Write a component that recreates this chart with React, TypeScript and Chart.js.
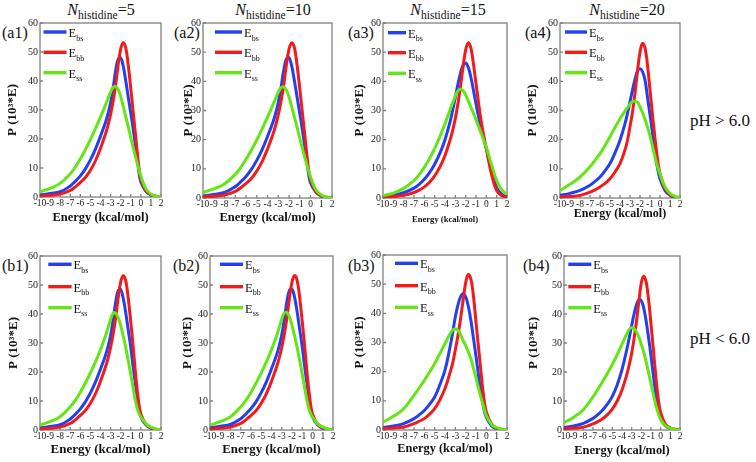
import React, { useEffect, useRef } from "react";
import { Chart, registerables } from "chart.js";

Chart.register(...registerables);

// ---------------- data ----------------
// energy grid (kcal/mol): coarser in the tails, finer around the peaks
const energies = [-10, -9, -8, -7, -6.5, -6, -5.5, -5, -4.5, -4, -3.5, -3.25, -3, -2.75, -2.5, -2.25, -2, -1.75, -1.5, -1.25, -1, -0.75, -0.5, -0.25, 0, 0.5, 1, 1.5, 2];
const xTickValues = [-10, -9, -8, -7, -6, -5, -4, -3, -2, -1, 0, 1, 2];
const yTickValues = [0, 10, 20, 30, 40, 50, 60];
const legendSubs = ["bs", "bb", "ss"];
const histidineCounts = [5, 10, 15, 20];
const panelLabels = ["(a1)", "(a2)", "(a3)", "(a4)", "(b1)", "(b2)", "(b3)", "(b4)"];
const phLabels = ["pH > 6.0", "pH < 6.0"];
const xAxisTitle = "Energy (kcal/mol)";
const yAxisTitle = "P (10³*E)";

const a1Ebs = [0.7, 1.2, 1.8, 3.8, 5.4, 7.3, 9.7, 12.8, 16.5, 21, 25.8, 28.8, 32.5, 37.5, 43.5, 47.5, 48, 45.2, 40.2, 34.5, 29, 23.2, 17, 10.3, 5.2, 2, 0.6, 0.2, 0.05];
const a1Ebb = [0.3, 0.6, 1, 2.3, 3.5, 5, 6.7, 9.2, 12.5, 16.8, 21.8, 24.8, 28.5, 33, 38.5, 45.5, 51, 53.2, 51.5, 45.5, 37.5, 29, 20.5, 12, 6.3, 2.1, 0.8, 0.3, 0.1];
const a1Ess = [1.8, 3, 4.7, 8, 10.3, 13.2, 16.3, 19.8, 23.6, 27.6, 31.8, 34, 36.2, 37.8, 38.1, 37, 34.6, 31.3, 27.8, 24.3, 20.5, 16.9, 13.5, 10.3, 7.2, 2.8, 1, 0.3, 0.1];

const a2Ebs = [0.7, 1.2, 1.9, 3.9, 5.5, 7.4, 9.8, 12.9, 16.6, 21.1, 25.9, 28.9, 32.6, 37.6, 43.6, 47.6, 48.1, 45.3, 40.3, 34.6, 29, 23.2, 17, 10.3, 5.2, 2, 0.6, 0.2, 0.05];
const a2Ebb = [0.3, 0.6, 1, 2.3, 3.5, 5, 6.7, 9.2, 12.5, 16.8, 21.8, 24.8, 28.5, 33, 38.5, 45.5, 51, 53.2, 51.6, 45.6, 37.6, 29, 20.5, 12, 6.3, 2.1, 0.8, 0.3, 0.1];
const a2Ess = [1.9, 3.1, 4.8, 8.1, 10.4, 13.3, 16.4, 19.9, 23.7, 27.7, 31.9, 34.1, 36.2, 37.8, 38.1, 37, 34.6, 31.3, 27.8, 24.3, 20.5, 16.9, 13.5, 10.3, 7.2, 2.8, 1, 0.3, 0.1];

const a3Ebs = [0.4, 0.9, 1.8, 3.4, 4.7, 6.4, 8.7, 11.6, 15.3, 20, 26.3, 30.2, 34.5, 39, 42.8, 45.5, 46.3, 44.8, 41.5, 37, 32.3, 27.8, 23.8, 20.2, 16.8, 9.3, 3.5, 1.2, 0.4];
const a3Ebb = [0.2, 0.45, 0.9, 1.9, 2.7, 3.8, 5.4, 7.6, 10.6, 14.6, 20, 23.3, 27.3, 32.3, 38.3, 45, 50.8, 53.2, 51.5, 46, 39.3, 32.5, 26.3, 21.3, 17, 8.2, 2.5, 0.8, 0.2];
const a3Ess = [0.8, 1.7, 3.3, 6, 8, 10.5, 13.5, 17, 21, 25.5, 30.3, 32.7, 35, 36.7, 37.3, 36.8, 35.3, 33.3, 31.2, 29, 26.8, 24.5, 22.2, 19.8, 17.3, 11.5, 6, 2.8, 1.3];

const a4Ebs = [0.9, 1.6, 2.6, 4.4, 5.7, 7.2, 9.3, 11.8, 15.5, 19.8, 25.5, 29, 33, 37, 40.7, 43.5, 44.3, 43.3, 40.5, 34.5, 28.5, 22.3, 15.8, 10.3, 6.6, 2.6, 0.9, 0.3, 0.05];
const a4Ebb = [0.3, 0.55, 0.9, 2, 2.8, 3.8, 5, 6.6, 8.9, 11.8, 16.5, 19.8, 24.5, 29.5, 36, 43.5, 50, 53, 51.5, 45.5, 37, 28.5, 20.5, 13.3, 8.4, 3.2, 1.2, 0.4, 0.1];
const a4Ess = [2.6, 4.7, 7.2, 10.7, 12.9, 15.2, 18, 21, 24.2, 27.2, 29.8, 31, 32.2, 33, 33.2, 32.8, 31.2, 29.3, 27, 24.3, 21.3, 17.8, 14, 10.8, 8.2, 3.8, 1.6, 0.6, 0.1];

const b1Ebs = [0.7, 1.2, 1.8, 3.8, 5.4, 7.3, 9.7, 12.8, 16.5, 21, 25.8, 28.8, 32.6, 37.8, 44, 48, 48.4, 45.5, 40.5, 34.5, 28.5, 21.5, 15, 8.8, 4.6, 1.8, 0.6, 0.2, 0.05];
const b1Ebb = [0.3, 0.6, 1, 2.3, 3.5, 5, 6.7, 9.2, 12.5, 16.8, 21.8, 24.8, 28.5, 33, 38.5, 45.5, 51, 53.2, 51.5, 45.5, 37.3, 28.3, 18.5, 10.5, 5.5, 2, 0.8, 0.3, 0.1];
const b1Ess = [1.7, 2.9, 4.6, 8, 10.2, 13, 16.2, 19.7, 23.5, 27.7, 32.5, 35.3, 38.2, 40.2, 40.3, 38.8, 36, 32.5, 28.5, 24, 19.2, 14.2, 9.5, 6.3, 4.5, 2.2, 1, 0.4, 0.1];

const b2Ebs = [0.8, 1.3, 1.9, 3.9, 5.5, 7.4, 9.8, 12.9, 16.6, 21.1, 25.9, 29, 32.8, 38, 44.2, 48.2, 48.6, 45.8, 40.8, 34.7, 28.6, 21.5, 15, 8.8, 4.6, 1.8, 0.6, 0.2, 0.05];
const b2Ebb = [0.3, 0.6, 1, 2.3, 3.5, 5, 6.7, 9.2, 12.5, 16.8, 21.8, 24.8, 28.5, 33, 38.5, 45.5, 51, 53.3, 51.6, 45.6, 37.4, 28.3, 18.5, 10.5, 5.5, 2, 0.8, 0.3, 0.1];
const b2Ess = [1.7, 2.9, 4.6, 8, 10.2, 13, 16.2, 19.7, 23.5, 27.7, 32.5, 35.3, 38.2, 40.3, 40.5, 39, 36.1, 32.5, 28.5, 24, 19.2, 14.2, 9.5, 6.3, 4.5, 2.2, 1, 0.4, 0.1];

const b3Ebs = [0.8, 1.4, 2.2, 3.9, 5.2, 6.7, 8.8, 11.3, 15.5, 20.5, 28.7, 33.5, 38.8, 42.8, 45.6, 46.7, 45.7, 42.5, 37.7, 31.6, 25.3, 18.6, 12.3, 7.5, 4.4, 1.5, 0.5, 0.2, 0.05];
const b3Ebb = [0.5, 0.7, 1, 2.2, 3, 3.9, 5.4, 7.3, 10.3, 14.2, 19.8, 23, 27.5, 32.3, 38, 44.5, 50.5, 53.3, 51.8, 46, 37, 28.2, 19.2, 11.2, 6.2, 2.1, 0.6, 0.2, 0.1];
const b3Ess = [2.7, 4.7, 7.3, 11.9, 14.4, 17, 19.8, 22.7, 26.2, 29.6, 33, 34.3, 34.7, 34.2, 32.7, 30.7, 28.9, 26.8, 24.5, 21.2, 17.9, 14.3, 10.9, 7.8, 5, 2, 0.8, 0.3, 0.1];

const b4Ebs = [0.8, 1.4, 2.3, 4, 5.3, 6.9, 9, 11.6, 15.5, 20.8, 27.8, 31.8, 36, 40, 43.2, 44.9, 44.6, 42, 37.5, 31.8, 25.5, 18.8, 12.3, 7.2, 4, 1.4, 0.5, 0.2, 0.05];
const b4Ebb = [0.4, 0.65, 1, 2.1, 2.9, 3.9, 5.3, 7.2, 10, 13.8, 19.2, 22.5, 26.5, 31.5, 37.5, 44.5, 50.8, 53, 51, 45, 36.5, 27.5, 18.5, 10.8, 6, 2, 0.7, 0.3, 0.1];
const b4Ess = [2.5, 4.4, 7, 11.4, 14, 16.7, 19.6, 22.6, 26, 29.6, 33.2, 34.7, 35.3, 35, 33.8, 32, 29.5, 26.8, 23.5, 19.8, 16, 12.2, 8.7, 5.8, 3.6, 1.4, 0.6, 0.2, 0.1];

// ---------------- styling / layout ----------------
const BLUE = "#2340f0";
const RED = "#f21a1a";
const GREEN = "#63e614";
const FRAME = "#808080";
const SERIF = '"Liberation Serif", "DejaVu Serif", "Noto Serif", Tinos, "Times New Roman", Times, serif';

type PanelSpec = {
  l: number; t: number; r: number; b: number;
  ebs: number[]; ebb: number[]; ess: number[];
  legDx: number; legLen: number; legRows: number[];
  yTitleX: number; xTitleY: number; xTitleSize: number;
  labelX: number; labelBase: number;
};

const rowA = [9, 29.3, 49.7];
const rowB = [8.3, 30.7, 51.7];

const panels: PanelSpec[] = [
  { l: 40, t: 23, r: 161, b: 197, ebs: a1Ebs, ebb: a1Ebb, ess: a1Ess, legDx: 3.5, legLen: 23, legRows: rowA, yTitleX: 13, xTitleY: 217.3, xTitleSize: 12.5, labelX: 2, labelBase: 39 },
  { l: 203, t: 23, r: 332, b: 198, ebs: a2Ebs, ebb: a2Ebb, ess: a2Ess, legDx: 12, legLen: 27, legRows: rowA, yTitleX: 188.5, xTitleY: 217.5, xTitleSize: 12.5, labelX: 174, labelBase: 39 },
  { l: 383, t: 23, r: 507, b: 198, ebs: a3Ebs, ebb: a3Ebb, ess: a3Ess, legDx: 5, legLen: 18, legRows: [9.7, 29.7, 50.3], yTitleX: 359.5, xTitleY: 219.5, xTitleSize: 8.6, labelX: 348, labelBase: 39 },
  { l: 560, t: 23, r: 680, b: 198, ebs: a4Ebs, ebb: a4Ebb, ess: a4Ess, legDx: 5, legLen: 22, legRows: rowA, yTitleX: 533, xTitleY: 213.5, xTitleSize: 12, labelX: 525, labelBase: 39 },
  { l: 40, t: 256, r: 161, b: 430, ebs: b1Ebs, ebb: b1Ebb, ess: b1Ess, legDx: 8.3, legLen: 23.3, legRows: rowB, yTitleX: 13.5, xTitleY: 450, xTitleSize: 13, labelX: 2, labelBase: 272 },
  { l: 210, t: 256, r: 333, b: 430, ebs: b2Ebs, ebb: b2Ebb, ess: b2Ess, legDx: 10, legLen: 23, legRows: rowB, yTitleX: 187.5, xTitleY: 449.5, xTitleSize: 12.8, labelX: 173, labelBase: 272 },
  { l: 383, t: 255, r: 507, b: 430, ebs: b3Ebs, ebb: b3Ebb, ess: b3Ess, legDx: 12, legLen: 23, legRows: [8.3, 30.7, 52.3], yTitleX: 359.5, xTitleY: 448.5, xTitleSize: 12.4, labelX: 348, labelBase: 272 },
  { l: 564, t: 256, r: 680, b: 430, ebs: b4Ebs, ebb: b4Ebb, ess: b4Ess, legDx: 4.3, legLen: 23, legRows: rowB, yTitleX: 532, xTitleY: 451, xTitleSize: 12.4, labelX: 523, labelBase: 272 },
];

const titleCenters = [101, 273, 448, 627];
const Y_AXIS_W = 38;
const PAD_TOP = 10;
const PAD_RIGHT = 10;
const X_AXIS_H = 30;

function PanelChart({ p }: { p: PanelSpec }) {
  const ref = useRef<HTMLCanvasElement | null>(null);
  const W = p.r - p.l + Y_AXIS_W + PAD_RIGHT;
  const H = p.b - p.t + PAD_TOP + X_AXIS_H;
  const left = p.l - Y_AXIS_W;
  const top = p.t - PAD_TOP;

  useEffect(() => {
    if (!ref.current) return;
    const pts = (vals: number[]) => energies.map((x, i) => ({ x, y: vals[i] }));
    const legendColors = [BLUE, RED, GREEN];

    const framePlugin = {
      id: "frameTicks",
      beforeDatasetsDraw(chart: any) {
        const { ctx, chartArea: a, scales } = chart;
        ctx.save();
        ctx.strokeStyle = FRAME;
        ctx.lineWidth = 1.3;
        ctx.strokeRect(a.left, a.top, a.right - a.left, a.bottom - a.top);
        ctx.beginPath();
        for (const v of yTickValues) {
          const y = scales.y.getPixelForValue(v);
          ctx.moveTo(a.left, y);
          ctx.lineTo(a.left + 3, y);
        }
        for (const v of xTickValues) {
          const x = scales.x.getPixelForValue(v);
          ctx.moveTo(x, a.bottom);
          ctx.lineTo(x, a.bottom - 3);
        }
        ctx.stroke();
        ctx.restore();
      },
    };

    const legendPlugin = {
      id: "eLegend",
      afterDatasetsDraw(chart: any) {
        const { ctx, chartArea: a } = chart;
        ctx.save();
        legendSubs.forEach((sub, i) => {
          const y = a.top + p.legRows[i];
          const x0 = a.left + p.legDx;
          ctx.strokeStyle = legendColors[i];
          ctx.lineWidth = 3.4;
          ctx.beginPath();
          ctx.moveTo(x0, y);
          ctx.lineTo(x0 + p.legLen, y);
          ctx.stroke();
          ctx.fillStyle = "#111";
          ctx.textBaseline = "alphabetic";
          ctx.textAlign = "left";
          ctx.font = `12.5px ${SERIF}`;
          const tx = x0 + p.legLen + 2;
          ctx.fillText("E", tx, y + 5);
          const w = ctx.measureText("E").width;
          ctx.font = `8px ${SERIF}`;
          ctx.fillText(sub, tx + w, y + 8.5);
        });
        ctx.restore();
      },
    };

    const yTitleFontSize = 13;
    const yLH = yTitleFontSize * 1.2;
    const xLH = p.xTitleSize * 1.2;
    const lineStyle = { borderWidth: 3, pointRadius: 0, tension: 0.4, fill: false };

    const chart = new Chart(ref.current, {
      type: "line",
      data: {
        datasets: [
          { label: "Ess", data: pts(p.ess), borderColor: GREEN, ...lineStyle },
          { label: "Ebb", data: pts(p.ebb), borderColor: RED, ...lineStyle },
          { label: "Ebs", data: pts(p.ebs), borderColor: BLUE, ...lineStyle },
        ],
      },
      options: {
        animation: false,
        responsive: false,
        devicePixelRatio: 1,
        events: [],
        layout: { padding: { top: PAD_TOP, right: PAD_RIGHT, left: 0, bottom: 0 } },
        plugins: { legend: { display: false }, tooltip: { enabled: false } },
        scales: {
          x: {
            type: "linear",
            min: -10,
            max: 2,
            afterBuildTicks: (s: any) => { s.ticks = xTickValues.map((v) => ({ value: v })); },
            afterFit: (s: any) => { s.height = X_AXIS_H; },
            ticks: { autoSkip: false, maxRotation: 0, minRotation: 0, padding: 0.5, font: { family: SERIF, size: 9.5 }, color: "#1a1a1a" },
            grid: { display: false, drawTicks: false },
            border: { display: false },
            title: {
              display: true,
              text: xAxisTitle,
              color: "#111",
              font: { family: SERIF, size: p.xTitleSize, weight: "bold" },
              padding: { top: 0, bottom: Math.max(0, p.b + X_AXIS_H - p.xTitleY - xLH / 2) },
            },
          },
          y: {
            type: "linear",
            min: 0,
            max: 60,
            afterBuildTicks: (s: any) => { s.ticks = yTickValues.map((v) => ({ value: v })); },
            afterFit: (s: any) => { s.width = Y_AXIS_W; },
            ticks: { padding: 2, font: { family: SERIF, size: 10 }, color: "#1a1a1a" },
            grid: { display: false, drawTicks: false },
            border: { display: false },
            title: {
              display: true,
              text: yAxisTitle,
              color: "#111",
              font: { family: SERIF, size: yTitleFontSize, weight: "bold" },
              padding: { top: Math.max(0, p.yTitleX - left - yLH / 2), bottom: 0 },
            },
          },
        },
      } as any,
      plugins: [framePlugin, legendPlugin],
    });
    return () => chart.destroy();
  }, []);

  return (
    <canvas
      ref={ref}
      width={W}
      height={H}
      style={{ position: "absolute", left, top, width: W, height: H }}
    />
  );
}

export default function App() {
  return (
    <div style={{ position: "absolute", left: 0, top: 0, width: 756, height: 462, background: "#fff", overflow: "hidden", fontFamily: SERIF, color: "#111" }}>
      {histidineCounts.map((n, i) => (
        <div
          key={"t" + i}
          style={{ position: "absolute", left: titleCenters[i] - 60, width: 120, top: 0, textAlign: "center", fontSize: 16, lineHeight: "20px", whiteSpace: "nowrap" }}
        >
          <i>N</i>
          <span style={{ fontSize: 11.5, position: "relative", top: 4 }}>histidine</span>
          {"=" + n}
        </div>
      ))}
      {panels.map((p, i) => (
        <div
          key={"l" + i}
          style={{ position: "absolute", left: p.labelX, top: p.labelBase - 15.75, fontSize: 16, lineHeight: "20px", whiteSpace: "nowrap" }}
        >
          {panelLabels[i]}
        </div>
      ))}
      <div style={{ position: "absolute", left: 690, top: 111, fontSize: 17, lineHeight: "20px", whiteSpace: "nowrap" }}>{phLabels[0]}</div>
      <div style={{ position: "absolute", left: 690, top: 329, fontSize: 17, lineHeight: "20px", whiteSpace: "nowrap" }}>{phLabels[1]}</div>
      {panels.map((p, i) => (
        <PanelChart key={"c" + i} p={p} />
      ))}
    </div>
  );
}
